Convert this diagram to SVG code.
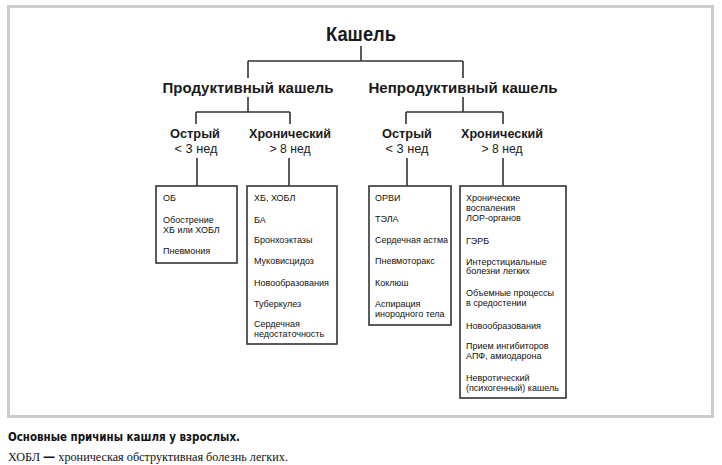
<svg xmlns="http://www.w3.org/2000/svg" width="722" height="465" viewBox="0 0 722 465">
<style>
.frame{fill:none;stroke:#cccccc;stroke-width:3}
.ln{fill:none;stroke:#333333;stroke-width:1.6}
.box{fill:#ffffff;stroke:#333333;stroke-width:1.6}
.t0{font-family:"Liberation Sans",Arial,sans-serif;font-weight:bold;font-size:20px;fill:#1a1a1a;text-anchor:middle}
.t1{font-family:"Liberation Sans",Arial,sans-serif;font-weight:bold;font-size:14px;fill:#1a1a1a;text-anchor:middle}
.t2{font-family:"Liberation Sans",Arial,sans-serif;font-weight:bold;font-size:12.5px;fill:#1a1a1a;text-anchor:middle}
.t3{font-family:"Liberation Sans",Arial,sans-serif;font-size:12.5px;fill:#1a1a1a;text-anchor:middle}
.it{font-family:"Liberation Sans",Arial,sans-serif;font-size:9px;fill:#111111}
.cap1{font-family:"DejaVu Sans",sans-serif;font-weight:bold;font-size:12px;fill:#111}
.cap2{font-family:"Liberation Serif","Times New Roman",serif;font-size:12px;fill:#111}
</style>
<rect class="frame" x="8.5" y="6.5" width="704" height="410"/>
<g id="connectors">
<path class="ln" d="M361,46 V61 M248,61 H463 M248,61 V78 M463,61 V78"/>
<path class="ln" d="M248,97 V112 M196,112 H290 M196,112 V124 M290,112 V124"/>
<path class="ln" d="M463,97 V112 M406,112 H503 M406,112 V124 M503,112 V124"/>
<path class="ln" d="M197,158 V186 M289,158 V186 M407,158 V186 M503,158 V186"/>
</g>
<g id="root"><text class="t0" x="361" y="41" textLength="70" lengthAdjust="spacingAndGlyphs">Кашель</text></g>
<g id="productive"><text class="t1" x="248" y="93" textLength="171" lengthAdjust="spacingAndGlyphs">Продуктивный кашель</text></g>
<g id="nonproductive"><text class="t1" x="463" y="93" textLength="189" lengthAdjust="spacingAndGlyphs">Непродуктивный кашель</text></g>
<g id="p-acute">
<text class="t2" x="195" y="137.5" textLength="50" lengthAdjust="spacingAndGlyphs">Острый</text>
<text class="t3" x="196" y="152.5" textLength="43" lengthAdjust="spacingAndGlyphs">&lt; 3 нед</text>
</g>
<g id="p-chronic">
<text class="t2" x="290" y="137.5" textLength="82" lengthAdjust="spacingAndGlyphs">Хронический</text>
<text class="t3" x="290" y="152.5" textLength="41" lengthAdjust="spacingAndGlyphs">&gt; 8 нед</text>
</g>
<g id="n-acute">
<text class="t2" x="407" y="137.5" textLength="50" lengthAdjust="spacingAndGlyphs">Острый</text>
<text class="t3" x="407" y="152.5" textLength="43" lengthAdjust="spacingAndGlyphs">&lt; 3 нед</text>
</g>
<g id="n-chronic">
<text class="t2" x="502" y="137.5" textLength="82" lengthAdjust="spacingAndGlyphs">Хронический</text>
<text class="t3" x="502" y="152.5" textLength="41" lengthAdjust="spacingAndGlyphs">&gt; 8 нед</text>
</g>
<g id="box-p-acute">
<rect class="box" x="156" y="186" width="81" height="77"/>
<text class="it" x="163" y="200.5">ОБ</text>
<text class="it" x="163" y="222.5">Обострение</text>
<text class="it" x="163" y="232.5">ХБ или ХОБЛ</text>
<text class="it" x="163" y="253.5">Пневмония</text>
</g>
<g id="box-p-chronic">
<rect class="box" x="247" y="186" width="90" height="158"/>
<text class="it" x="254" y="200.5">ХБ, ХОБЛ</text>
<text class="it" x="254" y="222.5">БА</text>
<text class="it" x="254" y="242.5">Бронхоэктазы</text>
<text class="it" x="254" y="263.5">Муковисцидоз</text>
<text class="it" x="254" y="285.5">Новообразования</text>
<text class="it" x="254" y="306.5">Туберкулез</text>
<text class="it" x="254" y="326.5">Сердечная</text>
<text class="it" x="254" y="336.5">недостаточность</text>
</g>
<g id="box-n-acute">
<rect class="box" x="369" y="186" width="82" height="139"/>
<text class="it" x="375" y="200.5">ОРВИ</text>
<text class="it" x="375" y="221.5">ТЭЛА</text>
<text class="it" x="375" y="242.5">Сердечная астма</text>
<text class="it" x="375" y="263.5">Пневмоторакс</text>
<text class="it" x="375" y="285.5">Коклюш</text>
<text class="it" x="375" y="306.5">Аспирация</text>
<text class="it" x="375" y="316.5">инородного тела</text>
</g>
<g id="box-n-chronic">
<rect class="box" x="460" y="186" width="106" height="212"/>
<text class="it" x="466" y="200.5">Хронические</text>
<text class="it" x="466" y="210.5">воспаления</text>
<text class="it" x="466" y="220.5">ЛОР-органов</text>
<text class="it" x="466" y="243.5">ГЭРБ</text>
<text class="it" x="466" y="264.5">Интерстициальные</text>
<text class="it" x="466" y="273.5">болезни легких</text>
<text class="it" x="466" y="295.5">Объемные процессы</text>
<text class="it" x="466" y="306">в средостении</text>
<text class="it" x="466" y="328.5">Новообразования</text>
<text class="it" x="466" y="348.5">Прием ингибиторов</text>
<text class="it" x="466" y="358.5">АПФ, амиодарона</text>
<text class="it" x="466" y="380.5">Невротический</text>
<text class="it" x="466" y="391">(психогенный) кашель</text>
</g>
<text class="cap1" x="8" y="441" textLength="232" lengthAdjust="spacingAndGlyphs">Основные причины кашля у взрослых.</text>
<text class="cap2" x="8" y="461" textLength="280" lengthAdjust="spacingAndGlyphs">ХОБЛ <tspan font-weight="bold" font-family="DejaVu Sans, sans-serif">—</tspan> хроническая обструктивная болезнь легких.</text>
</svg>
